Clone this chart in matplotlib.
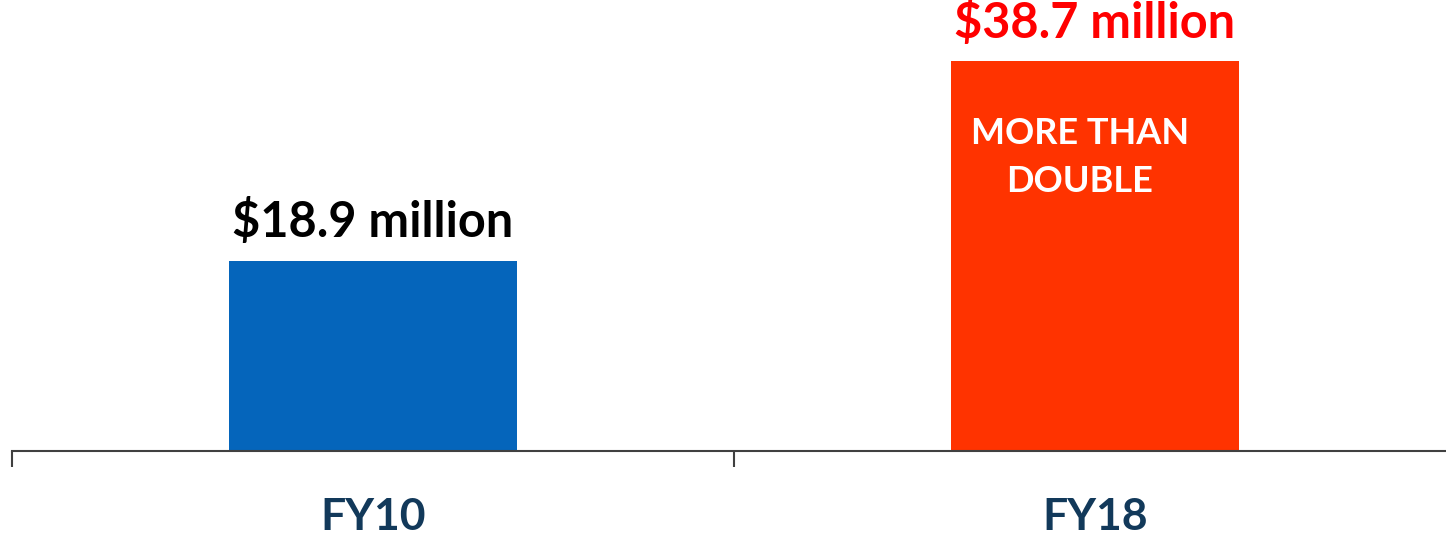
import matplotlib.pyplot as plt

categories = ['FY10', 'FY18']
values = [18.9, 38.7]
value_labels = ['$18.9 million', '$38.7 million']
bar_colors = ['#0565BB', '#FF3300']
label_colors = ['#000000', '#FF0000']
note = 'MORE THAN\nDOUBLE'

plt.rcParams['font.family'] = ['Lato', 'DejaVu Sans']
plt.rcParams['font.weight'] = 'bold'

fig = plt.figure(figsize=(14.46, 5.39), dpi=100)
ax = fig.add_axes([12 / 1446, 88 / 539, 1444 / 1446, 451 / 539])

x = list(range(len(categories)))
ax.bar(x, values, width=0.4, color=bar_colors)
ax.set_xlim(-0.5, 1.5)
ax.set_ylim(0, 44.8)

for xi, v, lab, c in zip(x, values, value_labels, label_colors):
    ax.annotate(lab, (xi, v), xytext=(0, 17), textcoords='offset points',
                ha='center', va='baseline', fontsize=35, fontweight='bold',
                color=c, clip_on=False)

ax.annotate(note, (1, values[1]), xytext=(-11, -40), textcoords='offset points',
            ha='center', va='top', fontsize=26, fontweight='bold',
            color='white', linespacing=1.55)

# axis: only bottom spine, boundary ticks, centered labels
for s in ['top', 'right', 'left']:
    ax.spines[s].set_visible(False)
ax.spines['bottom'].set_color('#404040')
ax.spines['bottom'].set_linewidth(1.5)
ax.set_yticks([])
ax.set_xticks(x)
ax.set_xticklabels(categories, fontsize=32, fontweight='bold', color='#12395A')
ax.tick_params(axis='x', which='major', length=0, pad=33)
ax.set_xticks([-0.5, 0.5, 1.5], minor=True)
ax.tick_params(axis='x', which='minor', length=11.5, width=1.5, color='#404040')

fig.savefig('out.png', dpi=100)
